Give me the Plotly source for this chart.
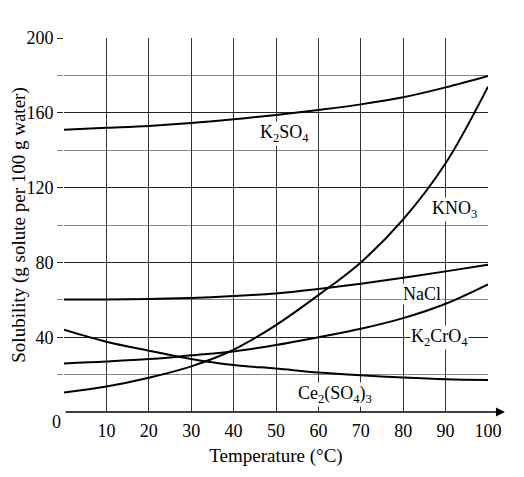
import plotly.graph_objects as go

temps = [0, 10, 20, 30, 40, 50, 60, 70, 80, 90, 100]

k2so4 = [151, 152, 153, 154.5, 156.5, 158.8, 161.5, 164.5, 168.3, 173.6, 179.7]
kno3 = [10.4, 13.6, 18.3, 24.4, 33.3, 46.5, 62.5, 80, 103, 133, 174]
nacl = [60.2, 60.2, 60.4, 61, 62, 63.4, 65.8, 68.6, 71.8, 75.2, 78.8]
k2cro4 = [26, 27, 28.3, 30.3, 32.4, 35.8, 40, 44.5, 50.2, 57.9, 68.3]
ce2so43 = [44, 37.6, 32.8, 28.4, 25.1, 23.2, 21.1, 19.6, 18.4, 17.5, 17.1]

series = [k2so4, kno3, nacl, k2cro4, ce2so43]

label_text = ["K<sub>2</sub>SO<sub>4</sub>", "KNO<sub>3</sub>", "NaCl",
              "K<sub>2</sub>CrO<sub>4</sub>", "Ce<sub>2</sub>(SO<sub>4</sub>)<sub>3</sub>"]
label_x = [52, 92, 84.4, 88.5, 64]
label_y = [149, 108.5, 63, 39.6, 9.6]

x_ticks = [10, 20, 30, 40, 50, 60, 70, 80, 90, 100]
y_ticks = [40, 80, 120, 160, 200]
y_minor = [20, 60, 100, 140, 180]

serif = "Liberation Serif"
tick_font = dict(family=serif, size=18, color='black')
title_font = dict(family=serif, size=19, color='black')

fig = go.Figure()

for vals in series:
    fig.add_trace(go.Scatter(
        x=temps, y=vals, mode='lines',
        line=dict(color='black', width=2, shape='spline', smoothing=1),
        showlegend=False, hoverinfo='skip', cliponaxis=False
    ))

# curve labels, white box hides the grid behind them
for txt, lx, ly in zip(label_text, label_x, label_y):
    fig.add_annotation(x=lx, y=ly, text=txt, showarrow=False,
                       font=dict(family=serif, size=18, color='black'),
                       bgcolor='white', borderpad=0)

# axis arrows
fig.add_annotation(x=0, y=217.6, ax=0, ay=-4, xref='x', yref='y', axref='x', ayref='y',
                   text='', showarrow=True, arrowhead=2, arrowsize=1.2, arrowwidth=1.5,
                   arrowcolor='black')
fig.add_annotation(x=104, y=0, ax=0, ay=0, xref='x', yref='y', axref='x', ayref='y',
                   text='', showarrow=True, arrowhead=2, arrowsize=1.2, arrowwidth=1.5,
                   arrowcolor='black')
fig.add_annotation(x=0, y=0, text='0', showarrow=False, xanchor='right', yanchor='top',
                   xshift=-1, yshift=2, font=tick_font)

# page body has an 8px margin, so the figure is a bit smaller than the window
fig.update_layout(
    width=516, height=469,
    margin=dict(l=56, r=36, t=30, b=65, autoexpand=False),
    plot_bgcolor='white', paper_bgcolor='white',
    font=tick_font,
    xaxis=dict(
        range=[0, 100], tickvals=x_ticks, showgrid=True, gridcolor='#333', gridwidth=1,
        zeroline=False, showline=False, ticks='', tickfont=tick_font, automargin=False,
        ticklabelstandoff=6,
        title=dict(text='Temperature (°C)', font=title_font, standoff=8),
    ),
    yaxis=dict(
        range=[0, 200], tickvals=y_ticks, showgrid=True, gridcolor='#222', gridwidth=1,
        zeroline=False, showline=False, ticks='outside', ticklen=6, tickcolor='#222',
        tickfont=tick_font, automargin=False,
        minor=dict(tickvals=y_minor, showgrid=True, gridcolor='#888',
                   ticks='outside', ticklen=6, tickcolor='#888'),
        title=dict(text='Solubility (g solute per 100 g water)', font=title_font, standoff=2),
    ),
)

fig.write_html("out.html")
